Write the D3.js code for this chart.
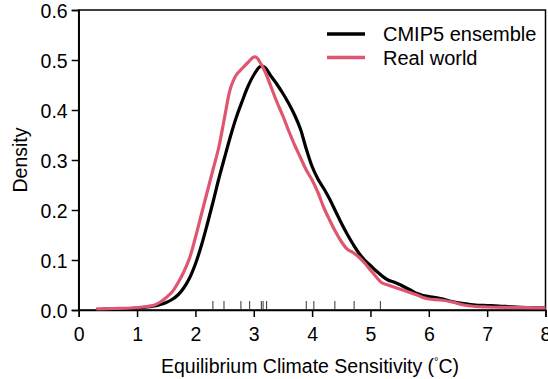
<!DOCTYPE html>
<html>
<head>
<meta charset="utf-8">
<script src="https://cdn.jsdelivr.net/npm/d3@7"></script>
<style>
  body { margin: 0; background: #fff; }
  text { font-family: "Liberation Sans", Arial, sans-serif; fill: #000; }
</style>
</head>
<body>
<div id="chart"></div>
<script>
var xTicks = [0, 1, 2, 3, 4, 5, 6, 7, 8];
var yTicks = [0, 0.1, 0.2, 0.3, 0.4, 0.5, 0.6];
var seriesNames = ["CMIP5 ensemble", "Real world"];
var seriesColors = ["#000000", "#df5670"];

// density curve, CMIP5 ensemble
var cmipX = [0.3, 0.6, 0.9, 1.1, 1.3, 1.4, 1.5, 1.6, 1.7, 1.8, 1.9, 2.0, 2.1, 2.2, 2.3, 2.4, 2.5, 2.6, 2.7, 2.8, 2.9, 3.0, 3.1, 3.15, 3.2, 3.3, 3.4, 3.5, 3.6, 3.7, 3.8, 3.9, 4.0, 4.1, 4.2, 4.3, 4.4, 4.5, 4.6, 4.7, 4.8, 4.9, 5.0, 5.1, 5.2, 5.3, 5.4, 5.5, 5.6, 5.7, 5.8, 5.9, 6.0, 6.2, 6.4, 6.6, 6.8, 7.0, 7.2, 7.5, 8.0];
var cmipY = [0.001, 0.002, 0.003, 0.005, 0.008, 0.011, 0.015, 0.021, 0.03, 0.044, 0.064, 0.092, 0.128, 0.17, 0.215, 0.262, 0.305, 0.347, 0.385, 0.417, 0.447, 0.47, 0.486, 0.488, 0.484, 0.467, 0.451, 0.433, 0.413, 0.39, 0.362, 0.322, 0.287, 0.262, 0.243, 0.222, 0.198, 0.174, 0.152, 0.132, 0.114, 0.1, 0.089, 0.078, 0.068, 0.06, 0.056, 0.051, 0.045, 0.039, 0.033, 0.029, 0.027, 0.023, 0.017, 0.013, 0.01, 0.009, 0.008, 0.006, 0.004];

// density curve, real world
var realX = [0.3, 0.6, 0.9, 1.1, 1.3, 1.4, 1.5, 1.6, 1.7, 1.8, 1.9, 2.0, 2.1, 2.2, 2.3, 2.4, 2.5, 2.6, 2.7, 2.8, 2.9, 3.0, 3.05, 3.1, 3.2, 3.3, 3.4, 3.5, 3.6, 3.7, 3.8, 3.9, 4.0, 4.1, 4.2, 4.3, 4.4, 4.5, 4.6, 4.7, 4.8, 4.9, 5.0, 5.1, 5.2, 5.3, 5.4, 5.5, 5.6, 5.7, 5.8, 5.9, 6.0, 6.2, 6.4, 6.6, 6.8, 7.0, 7.5, 8.0];
var realY = [0.002, 0.003, 0.004, 0.006, 0.01, 0.016, 0.025, 0.036, 0.054, 0.076, 0.104, 0.145, 0.19, 0.235, 0.28, 0.325, 0.385, 0.443, 0.47, 0.483, 0.495, 0.506, 0.505, 0.497, 0.475, 0.445, 0.415, 0.388, 0.358, 0.33, 0.305, 0.28, 0.26, 0.235, 0.205, 0.18, 0.157, 0.137, 0.122, 0.115, 0.106, 0.094, 0.08, 0.066, 0.054, 0.05, 0.046, 0.042, 0.038, 0.034, 0.03, 0.025, 0.022, 0.02, 0.016, 0.01, 0.007, 0.006, 0.005, 0.004];

// rug of individual model values
var rugValues = [2.30, 2.49, 2.78, 2.93, 3.13, 3.16, 3.22, 3.90, 4.03, 4.39, 4.72, 5.17];

var width = 548, height = 379;
var margin = {top: 10, right: 2.5, bottom: 69, left: 78.7};
var fontSize = '19.5px';

var svg = d3.select('#chart').append('svg').attr('width', width).attr('height', height);

var x = d3.scaleLinear().domain([0, 8]).range([margin.left, width - margin.right]);
var y = d3.scaleLinear().domain([0, 0.6]).range([height - margin.bottom, margin.top]);

// frame
svg.append('rect')
  .attr('x', x(0)).attr('y', y(0.6))
  .attr('width', x(8) - x(0)).attr('height', y(0) - y(0.6))
  .attr('fill', 'none').attr('stroke', '#000').attr('stroke-width', 1.5);

var xAxis = svg.append('g')
  .attr('transform', 'translate(0,' + y(0) + ')')
  .call(d3.axisBottom(x).tickValues(xTicks).tickFormat(d3.format('d')).tickSize(7).tickPadding(10));
var yAxis = svg.append('g')
  .attr('transform', 'translate(' + x(0) + ',0)')
  .call(d3.axisLeft(y).tickValues(yTicks).tickFormat(d3.format('.1f')).tickSize(7).tickPadding(4));

[xAxis, yAxis].forEach(function(a) {
  a.select('.domain').attr('stroke-width', 1.5);
  a.selectAll('.tick line').attr('stroke-width', 1.5);
  a.selectAll('.tick text').style('font-size', fontSize).style('font-family', '"Liberation Sans", Arial, sans-serif');
});
yAxis.selectAll('.tick text').attr('dy', '0.36em');

// rug
svg.selectAll('line.rug').data(rugValues).enter().append('line')
  .attr('class', 'rug')
  .attr('x1', function(d) { return x(d); }).attr('x2', function(d) { return x(d); })
  .attr('y1', y(0) - 9).attr('y2', y(0))
  .attr('stroke', '#333').attr('stroke-width', 1);

// curves
var line = d3.line()
  .x(function(d) { return x(d[0]); })
  .y(function(d) { return y(d[1]); })
  .curve(d3.curveCatmullRom);

var curves = [d3.zip(cmipX, cmipY), d3.zip(realX, realY)];
svg.selectAll('path.curve').data(curves).enter().append('path')
  .attr('class', 'curve')
  .attr('d', line)
  .attr('fill', 'none')
  .attr('stroke', function(d, i) { return seriesColors[i]; })
  .attr('stroke-width', 3.2)
  .attr('stroke-linejoin', 'round');

// legend
var legend = svg.selectAll('g.legend').data(seriesNames).enter().append('g')
  .attr('class', 'legend')
  .attr('transform', function(d, i) { return 'translate(327,' + (34 + i * 23.5) + ')'; });
legend.append('line')
  .attr('x1', 0).attr('x2', 38).attr('y1', 0).attr('y2', 0)
  .attr('stroke', function(d, i) { return seriesColors[i]; })
  .attr('stroke-width', 3.5);
legend.append('text')
  .attr('x', 56).attr('y', 0).attr('dy', '0.36em')
  .style('font-size', '20px')
  .text(function(d) { return d; });

// axis titles
var xt = svg.append('text')
  .attr('x', 310).attr('y', 373)
  .attr('text-anchor', 'middle')
  .style('font-size', fontSize);
xt.append('tspan').text('Equilibrium Climate Sensitivity (');
xt.append('tspan').attr('dy', -8).style('font-size', '11px').text('°');
xt.append('tspan').attr('dy', 8).text('C)');

svg.append('text')
  .attr('transform', 'translate(26.5,' + ((y(0) + y(0.6)) / 2) + ') rotate(-90)')
  .attr('text-anchor', 'middle')
  .style('font-size', fontSize)
  .text('Density');
</script>
</body>
</html>
